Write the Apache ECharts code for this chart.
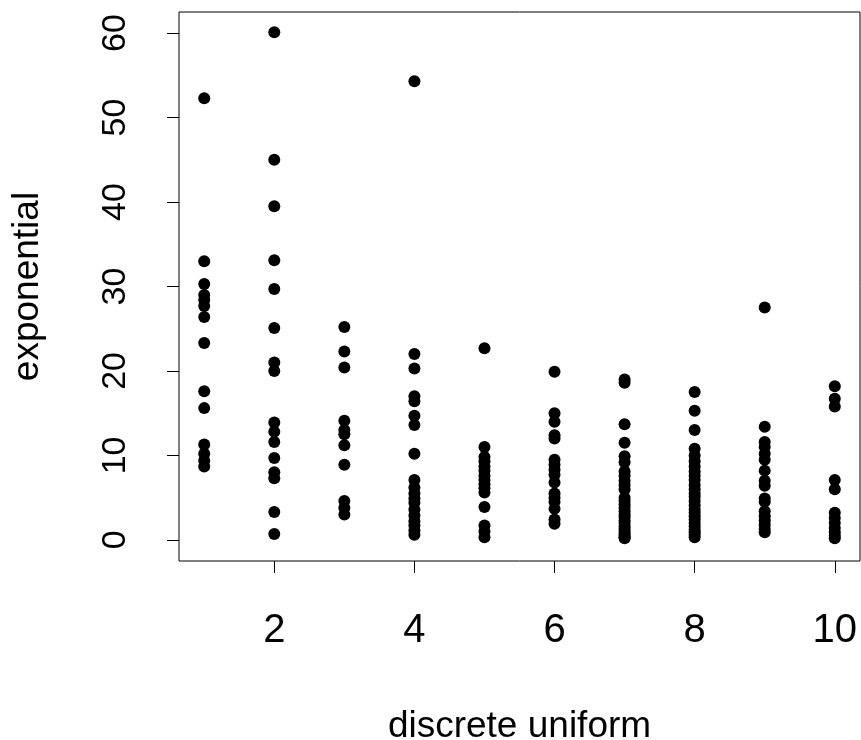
<!DOCTYPE html>
<html>
<head>
<meta charset="utf-8">
<script src="https://cdn.jsdelivr.net/npm/echarts@6/dist/echarts.min.js"></script>
<style>
  html, body { margin: 0; padding: 0; background: #fff; }
  #chart { width: 861px; height: 740px; }
</style>
</head>
<body>
<div id="chart"></div>
<script>
  var xTicks = [2, 4, 6, 8, 10];
  var yTicks = [0, 10, 20, 30, 40, 50, 60];

  var col1 = [52.3, 33.0, 30.3, 29.0, 28.4, 27.7, 26.4, 23.3, 17.6, 15.6, 11.3, 10.2, 9.4, 8.7];
  var col2 = [60.1, 45.0, 39.5, 33.1, 29.7, 25.1, 21.0, 20.0, 13.9, 12.8, 11.6, 9.7, 8.0, 7.3, 3.3, 0.7];
  var col3 = [25.2, 22.3, 20.4, 14.1, 13.0, 12.5, 11.2, 8.9, 4.6, 3.8, 3.0];
  var col4 = [54.3, 22.0, 20.3, 17.0, 16.4, 14.7, 13.6, 10.2, 7.1, 6.2, 5.5, 4.9, 4.4, 3.6, 2.9, 2.2, 1.7, 1.1, 0.6];
  var col5 = [22.7, 11.0, 9.8, 9.3, 8.7, 8.2, 7.6, 7.1, 6.6, 6.1, 5.6, 3.9, 1.7, 1.0, 0.3];
  var col6 = [19.9, 15.0, 14.0, 12.4, 12.0, 9.5, 8.9, 8.3, 7.7, 6.8, 5.5, 5.0, 4.5, 3.7, 2.4, 1.9];
  var col7 = [19.0, 18.6, 13.7, 11.5, 9.9, 9.2, 8.1, 7.6, 7.0, 6.5, 6.0, 5.0, 4.6, 4.2, 3.8, 3.4, 3.0, 2.7, 2.3, 2.0, 1.6, 1.3, 1.0, 0.7, 0.5, 0.3, 0.2];
  var col8 = [17.5, 15.3, 13.0, 10.8, 10.0, 9.3, 8.7, 8.1, 7.6, 7.1, 6.5, 6.0, 5.5, 5.1, 4.6, 4.1, 3.6, 3.2, 2.8, 2.4, 2.0, 1.6, 1.2, 0.9, 0.6, 0.3];
  var col9 = [27.5, 13.4, 11.6, 11.0, 10.2, 9.5, 8.2, 7.0, 6.4, 4.9, 4.5, 3.4, 2.8, 2.3, 1.8, 1.3, 0.9];
  var col10 = [18.2, 16.7, 15.8, 7.1, 6.0, 3.2, 2.6, 2.0, 1.4, 0.9, 0.5, 0.2];

  var columns = [col1, col2, col3, col4, col5, col6, col7, col8, col9, col10];
  var points = [];
  columns.forEach(function (col, i) {
    col.forEach(function (v) { points.push([i + 1, v]); });
  });

  var font = '"Liberation Sans", Arial, sans-serif';
  var chart = echarts.init(document.getElementById('chart'));

  var option = {
    animation: false,
    grid: {
      show: true,
      left: 179,
      right: 1,
      top: 12,
      bottom: 179,
      containLabel: false,
      outerBoundsMode: 'none',
      borderColor: '#000',
      borderWidth: 1
    },
    xAxis: {
      type: 'value',
      min: 0.64,
      max: 10.36,
      name: 'discrete uniform',
      nameLocation: 'middle',
      nameGap: 147,
      nameTextStyle: { color: '#000', fontSize: 37, fontFamily: font },
      axisLine: { show: false, onZero: false },
      splitLine: { show: false },
      axisTick: { show: true, length: 12, customValues: xTicks, lineStyle: { color: '#000' } },
      axisLabel: { customValues: xTicks, margin: 50, color: '#000', fontSize: 40, fontFamily: font }
    },
    yAxis: {
      type: 'value',
      min: -2.5,
      max: 62.5,
      name: 'exponential',
      nameLocation: 'middle',
      nameGap: 133,
      nameTextStyle: { color: '#000', fontSize: 37, fontFamily: font },
      axisLine: { show: false, onZero: false },
      splitLine: { show: false },
      axisTick: { show: true, length: 12, customValues: yTicks, lineStyle: { color: '#000' } },
      axisLabel: { customValues: yTicks, rotate: 90, margin: 46, color: '#000', fontSize: 34, fontFamily: font }
    },
    series: [{
      type: 'scatter',
      data: points,
      symbol: 'circle',
      symbolSize: 12,
      itemStyle: { color: '#000', opacity: 1 }
    }]
  };

  chart.setOption(option);
  window.addEventListener('resize', function () {
    chart.resize();
  });
</script>
</body>
</html>
